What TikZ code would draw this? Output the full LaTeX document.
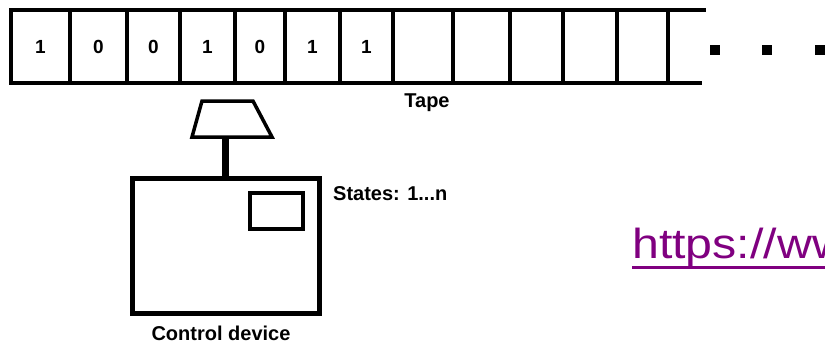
\documentclass[tikz,border=0pt]{standalone}
\usepackage{fontspec}
\setmainfont{Liberation Sans}
\newfontfamily\urlfont[FakeStretch=1.15]{Liberation Sans}
\definecolor{linkpurple}{HTML}{800080}
\begin{document}
\begin{tikzpicture}[x=1pt,y=-1pt,
  cell/.style={draw, line width=4.5pt, rectangle, inner sep=0pt, outer sep=0pt,
    minimum height=73pt, font=\bfseries\fontsize{19}{19}\selectfont},
  lbl/.style={font=\bfseries\fontsize{20}{20}\selectfont, inner sep=0pt},
  dot/.style={fill=black, minimum size=10pt, inner sep=0pt, outer sep=0pt, rectangle}
]
\useasboundingbox (0,0) rectangle (825,343);
\fill[white] (0,0) rectangle (825,343);
\clip (0,0) rectangle (825,343);

% tape top and bottom lines
\coordinate (tl) at (11,10);
\coordinate (tr) at (706,10);
\coordinate (bl) at (11,83);
\coordinate (br) at (702,83);
\draw[line width=4.5pt] (tl) -- (tr);
\draw[line width=4.5pt] (bl) -- (br);

% cells
\foreach \a/\b/\t [count=\i] in {11/70/1,70/127/0,127/180/0,180/235/1,235/285/0,285/340/1,340/393/1,393/453/,453/510/,510/563/,563/617/,617/668/}{
  \node[cell, minimum width={(\b-\a)*1pt}] (c\i) at ({(\a+\b)/2},46.5) {\t};
}

% dots
\node[dot] (d1) at (715,50) {};
\node[dot] (d2) at (767,50) {};
\node[dot] (d3) at (820,50) {};

\node[lbl] (tape) at (427,103) {Tape};

% head
\coordinate (h1) at (202,101);
\coordinate (h2) at (253,101);
\coordinate (h3) at (272,137);
\coordinate (h4) at (192,137);
\coordinate (headbot) at (225,137);
\draw[line width=3.5pt, line join=miter] (h1) -- (h2) -- (h3) -- (h4) -- cycle;

% control device
\node[draw, line width=5pt, rectangle, minimum width=187pt, minimum height=135pt, inner sep=0pt, outer sep=0pt]
  (ctrl) at (225.5,245.5) {};
\node[draw, line width=4pt, rectangle, minimum width=53pt, minimum height=36pt, inner sep=0pt, outer sep=0pt]
  (state) at (276.5,211) {};

\draw[line width=7pt] (headbot) -- (headbot |- ctrl.north);

\node[lbl, anchor=west] (states) at (333,194) {States: 1...n};
\node[lbl] (cdev) at (221,333) {Control device};

% url
\node[anchor=base west, inner sep=0pt, text=linkpurple, font=\urlfont\fontsize{42}{42}\selectfont]
  (url) at (632,258) {https://ww};
\coordinate (ulend) at (830,267);
\draw[linkpurple, line width=3pt] (url.base west |- ulend) -- (ulend);
\end{tikzpicture}
\end{document}
